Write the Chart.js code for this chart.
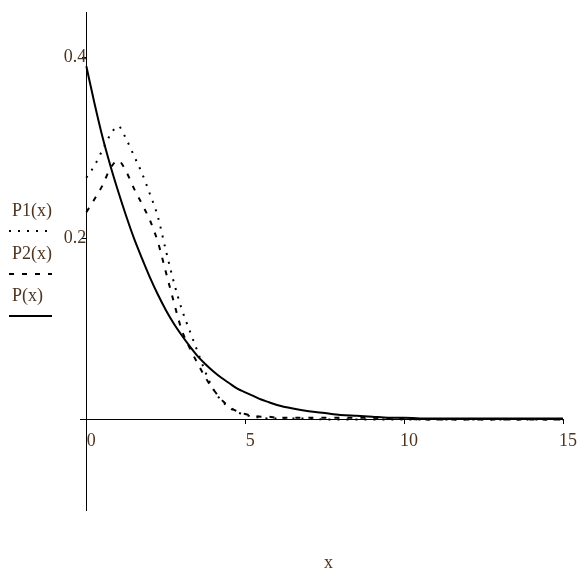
<!DOCTYPE html>
<html>
<head>
<meta charset="utf-8">
<script src="https://cdn.jsdelivr.net/npm/chart.js@4.4.0/dist/chart.umd.min.js"></script>
<style>
  html, body { margin: 0; padding: 0; background: #fff; }
  #wrap { width: 579px; height: 569px; }
</style>
</head>
<body>
<div id="wrap"><canvas id="myChart" width="579" height="569"></canvas></div>
<script>
// sample points
var xs = [0, 0.25, 0.5, 0.75, 1, 1.25, 1.5, 1.75, 2, 2.25, 2.5, 2.75, 3, 3.25, 3.5, 3.75, 4, 4.25, 4.5, 4.75, 5, 5.25, 5.5, 5.75, 6,
          6.5, 7, 7.5, 8, 8.5, 9, 9.5, 10, 10.5, 11, 11.5, 12, 12.5, 13, 13.5, 14, 14.5, 15];
var p1 = [0.267, 0.280, 0.297, 0.314, 0.324, 0.310, 0.291, 0.272, 0.249, 0.224, 0.187, 0.152, 0.122, 0.098, 0.075, 0.052, 0.033, 0.021, 0.013, 0.008, 0.005, 0.003, 0.002, 0.001, 0.001,
          0.001, 0.001, 0, 0, 0, 0, 0, 0, 0, 0, 0, 0, 0, 0, 0, 0, 0, 0];
var p2 = [0.229, 0.243, 0.258, 0.277, 0.286, 0.274, 0.255, 0.238, 0.220, 0.196, 0.163, 0.130, 0.099, 0.079, 0.062, 0.046, 0.033, 0.022, 0.014, 0.009, 0.006, 0.004, 0.003, 0.003, 0.002,
          0.002, 0.002, 0.002, 0.002, 0.002, 0.002, 0.001, 0.001, 0, 0, 0, 0, 0, 0, 0, 0, 0, 0];
var p = [0.390, 0.350, 0.313, 0.281, 0.252, 0.225, 0.200, 0.178, 0.157, 0.138, 0.121, 0.106, 0.093, 0.081, 0.070, 0.061, 0.053, 0.046, 0.040, 0.034, 0.030, 0.026, 0.022, 0.019, 0.016,
         0.012, 0.009, 0.007, 0.005, 0.004, 0.003, 0.002, 0.002, 0.001, 0.001, 0.001, 0.001, 0.001, 0.001, 0.001, 0.001, 0.001, 0.001];
var xTicks = [0, 5, 10, 15];
var yTicks = [0.2, 0.4];
var seriesNames = ['P1(x)', 'P2(x)', 'P(x)'];
var xTitle = 'x';

var labelColor = '#4d3520';
var serif = "'Liberation Serif', 'Times New Roman', serif";

function pts(ys) {
  return xs.map(function (x, i) { return {x: x, y: ys[i]}; });
}

// Mathcad style legend on the left + axis name under the plot
var sideLegend = {
  id: 'sideLegend',
  afterDraw: function (chart) {
    var c = chart.ctx;
    var textY = [211, 254, 296];
    c.save();
    c.font = '18px ' + serif;
    c.textBaseline = 'middle';
    c.textAlign = 'left';
    chart.data.datasets.forEach(function (ds, i) {
      c.fillStyle = labelColor;
      c.fillText(ds.label, 12, textY[i]);
      c.beginPath();
      c.strokeStyle = '#000';
      c.lineWidth = ds.borderWidth;
      c.setLineDash(ds.borderDash || []);
      c.moveTo(9, textY[i] + 20);
      c.lineTo(52, textY[i] + 20);
      c.stroke();
    });
    c.setLineDash([]);
    c.textAlign = 'center';
    c.textBaseline = 'alphabetic';
    c.fillStyle = labelColor;
    var a = chart.chartArea;
    c.fillText(xTitle, (a.left + a.right) / 2 + 7, 568);
    c.restore();
  }
};

var ctx = document.getElementById('myChart').getContext('2d');
var myChart = new Chart(ctx, {
  type: 'line',
  data: {
    datasets: [{
        label: seriesNames[0],
        data: pts(p1),
        borderColor: '#000',
        borderWidth: 2,
        borderDash: [2, 7],
        pointRadius: 0,
        cubicInterpolationMode: 'monotone'
      }, {
        label: seriesNames[1],
        data: pts(p2),
        borderColor: '#000',
        borderWidth: 2,
        borderDash: [5, 8],
        pointRadius: 0,
        cubicInterpolationMode: 'monotone'
      }, {
        label: seriesNames[2],
        data: pts(p),
        borderColor: '#000',
        borderWidth: 2,
        pointRadius: 0,
        cubicInterpolationMode: 'monotone'
      }
    ]
  },
  options: {
    responsive: false,
    animation: false,
    layout: { padding: { left: 80, right: 16, top: 12, bottom: 59 } },
    plugins: {
      legend: { display: false },
      tooltip: { enabled: false }
    },
    scales: {
      x: {
        type: 'linear',
        min: -0.2,
        max: 15,
        position: { y: 0 },
        afterBuildTicks: function (axis) {
          axis.ticks = xTicks.map(function (v) { return {value: v}; });
        },
        grid: { display: true, drawOnChartArea: false, drawTicks: true, tickLength: 4, color: '#000' },
        border: { display: true, color: '#000', width: 1 },
        ticks: {
          color: labelColor,
          font: { family: serif, size: 18 },
          padding: 7,
          labelOffset: 5,
          maxRotation: 0
        }
      },
      y: {
        type: 'linear',
        min: -0.1,
        max: 0.45,
        position: { x: 0 },
        afterBuildTicks: function (axis) {
          axis.ticks = yTicks.map(function (v) { return {value: v}; });
        },
        grid: { display: true, drawOnChartArea: false, drawTicks: true, tickLength: 4, color: '#000' },
        border: { display: true, color: '#000', width: 1 },
        ticks: {
          color: labelColor,
          font: { family: serif, size: 18 },
          padding: 1
        }
      }
    }
  },
  plugins: [sideLegend]
});
</script>
</body>
</html>
